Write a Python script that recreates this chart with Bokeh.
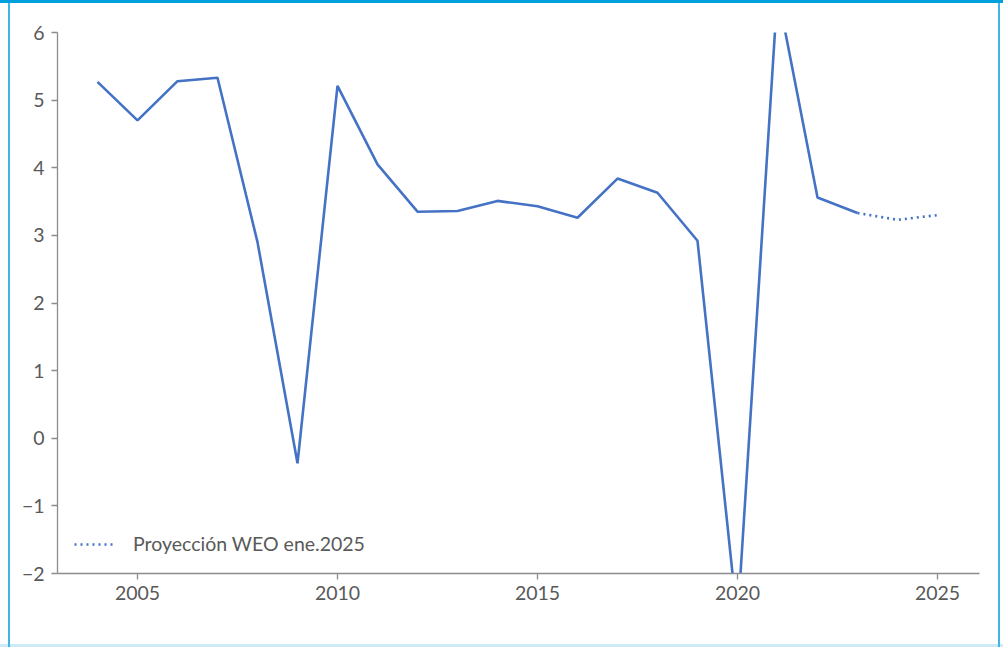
from bokeh.plotting import figure
from bokeh.models import FixedTicker, Range1d, Legend, LegendItem
from bokeh.embed import file_html
from bokeh.resources import INLINE

# Data (world GDP growth, %)
years_hist = [2004, 2005, 2006, 2007, 2008, 2009, 2010, 2011, 2012, 2013, 2014,
              2015, 2016, 2017, 2018, 2019, 2020, 2021, 2022, 2023]
growth_hist = [5.27, 4.70, 5.28, 5.33, 2.90, -0.37, 5.21, 4.05, 3.35, 3.36, 3.51,
               3.43, 3.26, 3.84, 3.63, 2.92, -2.70, 6.60, 3.56, 3.33]
years_proj = [2023, 2024, 2025]
growth_proj = [3.33, 3.23, 3.30]
proj_label = "Proyección WEO ene.2025"
x_ticks = [2005, 2010, 2015, 2020, 2025]
y_ticks = [-2, -1, 0, 1, 2, 3, 4, 5, 6]

LINE = "#4472c4"
GRAY = "#595959"
AXIS = "#8c8c8c"
FONT = "Lato"
FS = "19.5px"

p = figure(frame_width=922, frame_height=541, output_backend="svg",
           toolbar_location=None, x_range=Range1d(2003.0, 2026.05),
           y_range=Range1d(-2, 6))
p.min_border_left = 57
p.min_border_right = 24
p.min_border_top = 32
p.min_border_bottom = 74
p.outline_line_color = None
p.border_fill_color = None
p.background_fill_color = None
p.grid.visible = False
p.styles = {
    "background": ("linear-gradient(#00a0dc,#00a0dc) 0 0 / 100% 3px no-repeat, "
                   "linear-gradient(#3fb4e6,#3fb4e6) 8px 0 / 2px 100% no-repeat, "
                   "linear-gradient(#3fb4e6,#3fb4e6) 998px 0 / 2px 100% no-repeat, "
                   "linear-gradient(#cdeaf7,#cdeaf7) 0 644px / 100% 3px no-repeat, white"),
}

r_hist = p.line(years_hist, growth_hist, line_color=LINE, line_width=2.6)
r_proj = p.line(years_proj, growth_proj, line_color=LINE, line_width=2.6,
                line_dash="2 4")

for ax in (p.xaxis[0], p.yaxis[0]):
    ax.axis_line_color = AXIS
    ax.axis_line_width = 1.3
    ax.major_tick_line_color = AXIS
    ax.major_tick_line_width = 1.3
    ax.major_tick_out = 6
    ax.major_tick_in = 0
    ax.minor_tick_line_color = None
    ax.major_label_text_font = FONT
    ax.major_label_text_font_size = FS
    ax.major_label_text_color = GRAY

p.xaxis.ticker = FixedTicker(ticks=x_ticks)
p.yaxis.ticker = FixedTicker(ticks=y_ticks)
p.yaxis.major_label_overrides = {t: ("\u2212" + str(-t) if t < 0 else str(t)) for t in y_ticks}
p.xaxis.major_label_standoff = 6
p.yaxis.major_label_standoff = 7

legend = Legend(items=[LegendItem(label=proj_label, renderers=[r_proj])],
                location=(17, 18), border_line_color=None,
                background_fill_alpha=0, label_text_font=FONT,
                label_text_font_size=FS, label_text_color=GRAY,
                glyph_width=42, label_standoff=17, padding=6, margin=0)
p.add_layout(legend)

open("out.html", "w").write(file_html(p, INLINE))
